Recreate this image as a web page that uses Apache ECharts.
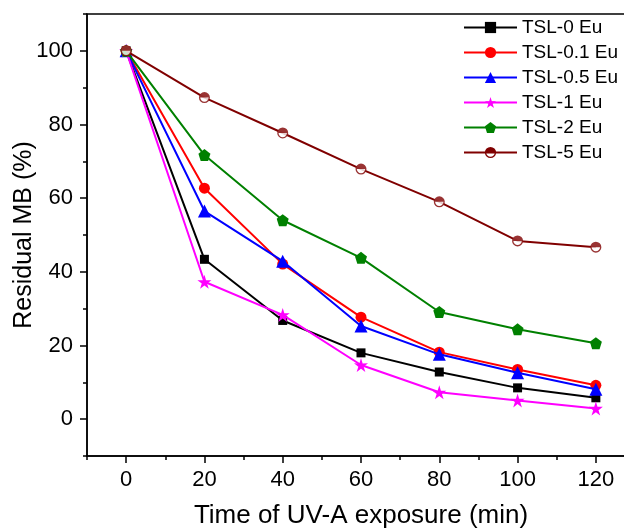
<!DOCTYPE html>
<meta charset="utf-8">
<html>
<head>
  <title>Residual MB</title>
  <script src="https://cdn.jsdelivr.net/npm/echarts@6/dist/echarts.min.js"></script>
</head>
<body style="margin:0">
  <div id="container" style="height: 529px; width: 624px"></div>
  <script>
    var times = [0, 20, 40, 60, 80, 100, 120];
    var names = ['TSL-0 Eu', 'TSL-0.1 Eu', 'TSL-0.5 Eu', 'TSL-1 Eu', 'TSL-2 Eu', 'TSL-5 Eu'];
    var tsl0 = [100, 43.4, 26.8, 18.0, 12.8, 8.5, 5.8];
    var tsl01 = [100, 62.7, 42.1, 27.7, 18.2, 13.5, 9.2];
    var tsl05 = [100, 56.5, 42.9, 25.3, 17.6, 12.6, 8.1];
    var tsl1 = [100, 37.3, 28.3, 14.7, 7.3, 5.1, 2.9];
    var tsl2 = [100, 71.7, 54.0, 43.8, 29.1, 24.4, 20.6];
    var tsl5 = [100, 87.3, 77.7, 67.9, 59.0, 48.4, 46.7];
    var xMajor = [0, 20, 40, 60, 80, 100, 120];
    var xMinor = [-10, 10, 30, 50, 70, 90, 110, 130];
    var yMajor = [0, 20, 40, 60, 80, 100];
    var yMinor = [-10, 10, 30, 50, 70, 90, 110];

    var font = '"Liberation Sans", Arial, sans-serif';
    var star = 'path://M50 0 L61.17 34.63 L97.55 34.55 L68.07 55.87 L79.39 90.45 L50 69 L20.61 90.45 L31.93 55.87 L2.45 34.55 L38.83 34.63 Z';
    var pentagon = 'path://M50 0 L97.55 34.55 L79.39 90.45 L20.61 90.45 L2.45 34.55 Z';
    var halfCircle = 'path://M0 50 A50 50 0 1 1 100 50 A50 50 0 1 1 0 50 Z M12 50 A38 38 0 1 0 88 50 A38 38 0 1 0 12 50 Z M12 50 A38 38 0 0 1 88 50 Z';

    function pairs(vals) {
      return times.map(function (t, i) { return [t, vals[i]]; });
    }

    var styles = [
      { data: tsl0, color: '#000000', symbol: 'rect', size: 9 },
      { data: tsl01, color: '#ff0000', symbol: 'circle', size: 11 },
      { data: tsl05, color: '#0000ff', symbol: 'triangle', size: 13 },
      { data: tsl1, color: '#ff00ff', symbol: star, size: 14 },
      { data: tsl2, color: '#008000', symbol: pentagon, size: 12 },
      { data: tsl5, color: '#800000', symbol: halfCircle, size: 11 }
    ];

    var series = styles.map(function (s, i) {
      return {
        name: names[i],
        type: 'line',
        data: pairs(s.data),
        symbol: s.symbol,
        symbolSize: s.size,
        showSymbol: i !== 5,
        color: s.color,
        lineStyle: { width: 2, color: s.color },
        itemStyle: { color: s.color },
        z: 2 + i
      };
    });
    // half-filled circle markers for TSL-5 Eu
    series.push({
      type: 'scatter', data: pairs(tsl5), symbol: 'circle', symbolSize: 10,
      itemStyle: { color: '#ffffff' }, z: 10, silent: true
    });
    series.push({
      type: 'scatter', data: pairs(tsl5), symbol: halfCircle, symbolSize: 11,
      itemStyle: { color: '#800000' }, z: 11, silent: true
    });

    var axisLineStyle = { color: '#000', width: 1.5 };

    var option = {
      animation: false,
      textStyle: { fontFamily: font },
      grid: [
        { left: 87, top: 14, right: -11, bottom: 73, outerBoundsMode: 'none', containLabel: false,
          show: true, borderColor: '#000', borderWidth: 1.5 },
        { left: 87, top: 14, right: -11, bottom: 73, outerBoundsMode: 'none', containLabel: false }
      ],
      legend: {
        data: names,
        orient: 'vertical',
        left: 458,
        top: 13,
        itemWidth: 53,
        itemHeight: 14,
        itemGap: 6,
        textStyle: { fontSize: 19, color: '#000', fontFamily: font }
      },
      xAxis: [
        {
          type: 'value', gridIndex: 0, min: -10, max: 130,
          name: 'Time of UV-A exposure (min)', nameLocation: 'middle', nameGap: 47,
          nameMoveOverlap: false,
          nameTextStyle: { fontSize: 26, color: '#000', fontFamily: font },
          axisLine: { onZero: false, lineStyle: axisLineStyle },
          axisTick: { customValues: xMajor, length: 7, lineStyle: axisLineStyle },
          axisLabel: { customValues: xMajor, fontSize: 22, color: '#000', margin: 13 },
          splitLine: { show: false }
        },
        {
          type: 'value', gridIndex: 1, min: -10, max: 130,
          axisLine: { show: false, onZero: false },
          axisTick: { customValues: xMinor, length: 4, lineStyle: axisLineStyle },
          axisLabel: { show: false },
          splitLine: { show: false }
        }
      ],
      yAxis: [
        {
          type: 'value', gridIndex: 0, min: -10, max: 110,
          name: 'Residual MB (%)', nameLocation: 'middle', nameGap: 50,
          nameMoveOverlap: false,
          nameTextStyle: { fontSize: 25, color: '#000', fontFamily: font },
          axisLine: { show: true, onZero: false, lineStyle: axisLineStyle },
          axisTick: { show: true, customValues: yMajor, length: 7, lineStyle: axisLineStyle },
          axisLabel: { customValues: yMajor, fontSize: 22, color: '#000', margin: 14 },
          splitLine: { show: false }
        },
        {
          type: 'value', gridIndex: 1, min: -10, max: 110,
          axisLine: { show: false, onZero: false },
          axisTick: { show: true, customValues: yMinor, length: 4, lineStyle: axisLineStyle },
          axisLabel: { show: false },
          splitLine: { show: false }
        }
      ],
      series: series
    };

    var myChart = echarts.init(document.getElementById('container'));
    myChart.setOption(option);
  </script>
</body>
</html>
